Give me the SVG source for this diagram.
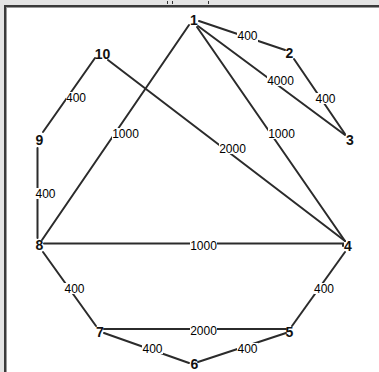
<svg xmlns="http://www.w3.org/2000/svg" width="379" height="372" viewBox="0 0 379 372">
<style>
.e{stroke:#2b2b2b;stroke-width:2;fill:none;stroke-linecap:round}
.w{font-family:"Liberation Sans",Arial,sans-serif;font-size:12px;fill:#000;text-anchor:middle}
.n{font-family:"Liberation Sans",Arial,sans-serif;font-size:14px;font-weight:bold;fill:#111;text-anchor:middle}
.bg{fill:#fff}
</style>
<rect x="0" y="0" width="379" height="372" fill="#fff"/>
<rect x="0" y="0" width="379" height="5" fill="#e4e4e4"/>
<rect x="0" y="0" width="4" height="372" fill="#e4e4e4"/>
<line x1="4" y1="6" x2="379" y2="6" stroke="#3a3a3a" stroke-width="2"/>
<line x1="5" y1="6" x2="5" y2="372" stroke="#3a3a3a" stroke-width="2"/>
<line x1="7" y1="7.5" x2="379" y2="7.5" stroke="#9a9a9a" stroke-width="1"/>
<line x1="6.5" y1="7" x2="6.5" y2="372" stroke="#9a9a9a" stroke-width="1"/>
<g stroke="#333" stroke-width="1">
<line x1="167.5" y1="1" x2="167.5" y2="4"/>
<line x1="172.5" y1="1" x2="172.5" y2="4"/>
<line x1="208.5" y1="1" x2="208.5" y2="4"/>
</g>
<g id="connectors">
<line class="e" x1="199" y1="21" x2="285" y2="50"/>
<line class="e" x1="198" y1="26" x2="345" y2="135"/>
<line class="e" x1="294" y1="59" x2="345" y2="134"/>
<line class="e" x1="197" y1="27" x2="345" y2="241"/>
<line class="e" x1="189" y1="25" x2="42" y2="240"/>
<line class="e" x1="108" y1="60" x2="345" y2="241"/>
<line class="e" x1="95" y1="58" x2="43" y2="132"/>
<line class="e" x1="37.5" y1="148" x2="37.5" y2="238"/>
<polyline class="e" points="44,243.5 343,243.5 343,246"/>
<line class="e" x1="43" y1="252" x2="96" y2="326"/>
<line class="e" x1="345" y1="252" x2="292" y2="326"/>
<line class="e" x1="104" y1="329" x2="286" y2="329"/>
<line class="e" x1="104" y1="333" x2="189" y2="363"/>
<line class="e" x1="198" y1="362" x2="286" y2="333"/>
</g>
<g id="weights">
<rect class="bg" x="237" y="31" width="21" height="11"/><text class="w" x="247.5" y="40">400</text>
<rect class="bg" x="267" y="75" width="27" height="11"/><text class="w" x="280.5" y="85">4000</text>
<rect class="bg" x="315" y="93" width="21" height="11"/><text class="w" x="325.5" y="103">400</text>
<rect class="bg" x="66" y="92" width="21" height="11"/><text class="w" x="76" y="102">400</text>
<rect class="bg" x="112" y="128" width="27" height="11"/><text class="w" x="125.5" y="138">1000</text>
<rect class="bg" x="268" y="128" width="27" height="11"/><text class="w" x="281.5" y="138">1000</text>
<rect class="bg" x="219" y="143" width="27" height="11"/><text class="w" x="232.5" y="153">2000</text>
<rect class="bg" x="35" y="188" width="21" height="11"/><text class="w" x="45.5" y="198">400</text>
<rect class="bg" x="190" y="240" width="27" height="11"/><text class="w" x="203.5" y="250">1000</text>
<rect class="bg" x="64" y="283" width="21" height="11"/><text class="w" x="74.5" y="293">400</text>
<rect class="bg" x="314" y="283" width="21" height="11"/><text class="w" x="324" y="293">400</text>
<rect class="bg" x="190" y="325" width="27" height="11"/><text class="w" x="203.5" y="335">2000</text>
<rect class="bg" x="142" y="343" width="21" height="11"/><text class="w" x="152.5" y="353">400</text>
<rect class="bg" x="237" y="343" width="21" height="11"/><text class="w" x="247.5" y="353">400</text>
</g>
<g id="n1"><text class="n" x="194" y="25">1</text></g>
<g id="n2"><text class="n" x="289.5" y="58">2</text></g>
<g id="n3"><text class="n" x="350" y="145">3</text></g>
<g id="n4"><text class="n" x="348" y="251">4</text></g>
<g id="n5"><text class="n" x="289.5" y="337">5</text></g>
<g id="n6"><text class="n" x="194.5" y="369">6</text></g>
<g id="n7"><text class="n" x="100" y="337">7</text></g>
<g id="n8"><text class="n" x="39.5" y="250">8</text></g>
<g id="n9"><text class="n" x="39.5" y="145">9</text></g>
<g id="n10"><text class="n" x="102.5" y="59">10</text></g>
</svg>
